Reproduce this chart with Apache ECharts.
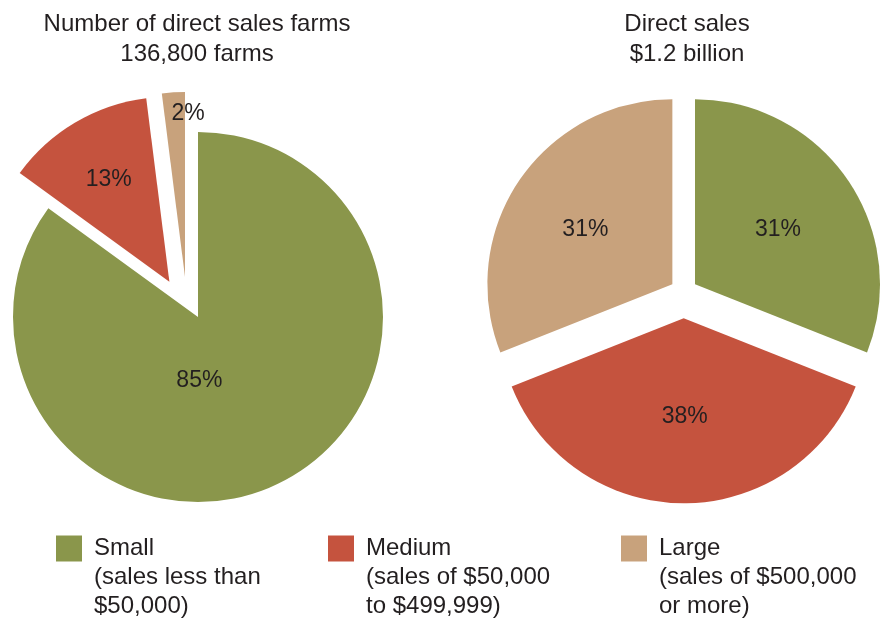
<!DOCTYPE html>
<html>
<head>
<meta charset="utf-8">
<style>
  html, body { margin: 0; padding: 0; background: #fff; }
  #chart { width: 881px; height: 621px; }
</style>
<script src="https://cdn.jsdelivr.net/npm/echarts@6/dist/echarts.min.js"></script>
</head>
<body>
<div id="chart"></div>
<script>
  // categories and notes for the legend
  const categories = ['Small', 'Medium', 'Large'];
  const categoryNotes = ['(sales less than\n$50,000)', '(sales of $50,000\nto $499,999)', '(sales of $500,000\nor more)'];
  // shares, percent
  const farmShares = [85, 13, 2];
  const salesShares = [31, 38, 31];
  const farmTitle = 'Number of direct sales farms\n136,800 farms';
  const salesTitle = 'Direct sales\n$1.2 billion';

  const colors = ['#8a964b', '#c5533e', '#c8a27c'];
  const textColor = '#231f20';
  const font = 'Liberation Sans, Arial, sans-serif';

  // one pie layer: only the "shown" slices are painted, the rest keep their angle but stay empty
  function pieLayer(center, values, shown, selected, offset, nudges) {
    return {
      type: 'pie',
      center: center,
      radius: 185,
      selectedMode: 'multiple',
      selectedOffset: offset,
      animation: false,
      silent: true,
      label: {
        position: 'inside',
        formatter: '{c}%',
        fontSize: 23,
        fontFamily: font,
        color: textColor
      },
      labelLine: { show: false },
      labelLayout: function (p) {
        const n = nudges[p.dataIndex];
        return { dx: n[0], dy: n[1] };
      },
      data: values.map(function (v, i) {
        const on = shown.indexOf(i) >= 0;
        return {
          name: categories[i],
          value: v,
          selected: on && selected.indexOf(i) >= 0,
          itemStyle: { color: on ? colors[i] : 'rgba(0,0,0,0)' },
          label: { show: on }
        };
      })
    };
  }

  // legend text is centred on the swatch, so two empty lines above push the name level with it
  function legendFor(i, left) {
    return {
      left: left,
      top: 476,
      padding: 0,
      orient: 'vertical',
      selectedMode: false,
      icon: 'rect',
      itemWidth: 26,
      itemHeight: 26,
      data: [{ name: categories[i], itemStyle: { color: colors[i], opacity: 1 } }],
      formatter: function (name) {
        return ' \n \n' + name + '\n' + categoryNotes[i];
      },
      textStyle: {
        fontSize: 24,
        lineHeight: 29,
        fontFamily: font,
        color: textColor,
        padding: [0, 0, 0, 7]
      }
    };
  }

  const chart = echarts.init(document.getElementById('chart'));
  chart.setOption({
    animation: false,
    title: [
      {
        text: farmTitle, left: 192, top: 4, textAlign: 'center',
        textStyle: { fontSize: 24, fontWeight: 'normal', lineHeight: 30, fontFamily: font, color: textColor }
      },
      {
        text: salesTitle, left: 682, top: 4, textAlign: 'center',
        textStyle: { fontSize: 24, fontWeight: 'normal', lineHeight: 30, fontFamily: font, color: textColor }
      }
    ],
    legend: [legendFor(0, 56), legendFor(1, 328), legendFor(2, 621)],
    series: [
      pieLayer([198, 317], farmShares, [0], [], 0, [[-42, -21], [0, 0], [0, 0]]),
      pieLayer([187.2, 311.9], farmShares, [1, 2], [1, 2], 35, [[0, 0], [-12, -20], [9, -68]]),
      pieLayer([683.7, 292], salesShares, [0, 2], [0, 2], 13.7, [[4, -1], [0, 0], [-8, -1]]),
      pieLayer([683.7, 292], salesShares, [1], [1], 26.3, [[0, 0], [1, 3], [0, 0]])
    ]
  });
</script>
</body>
</html>
